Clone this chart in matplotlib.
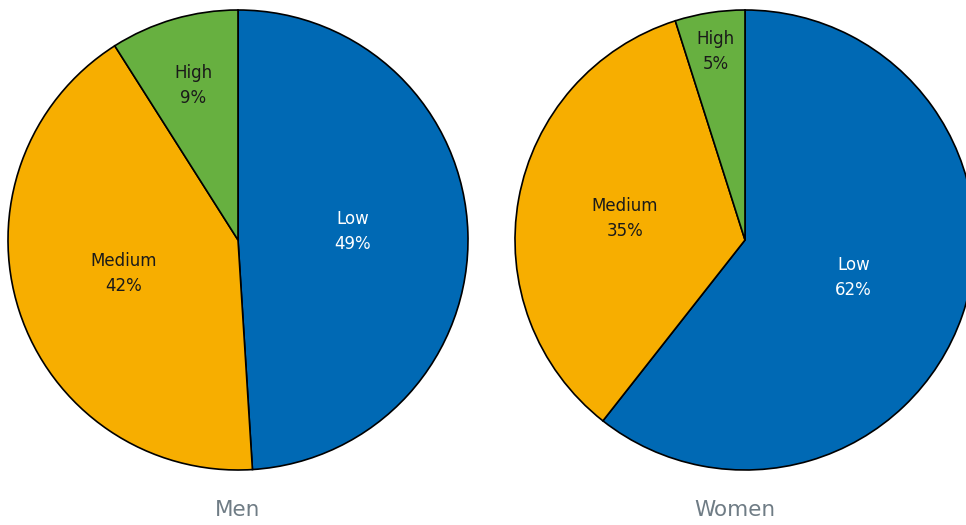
import matplotlib.pyplot as plt
import numpy as np

# data
categories = ["Low", "Medium", "High"]
men_shares = [49, 42, 9]
women_shares = [60.6, 34.5, 4.9]
men_labels = ["49%", "42%", "9%"]
women_labels = ["62%", "35%", "5%"]
groups = ["Men", "Women"]

colors = ["#0069B4", "#F7AE00", "#67B040"]
text_colors = ["white", "#1a1a1a", "#1a1a1a"]

W, H = 966, 525
fig = plt.figure(figsize=(W / 100, H / 100), dpi=100)
ax = fig.add_axes([0, 0, 1, 1])

R = 230
# (shares, pct text, centre, label radius, label angle nudge, title x)
pies = [
    (men_shares, men_labels, (238, 285), [0.50, 0.52, 0.70], [2.5, -1.5, 0], 238),
    (women_shares, women_labels, (745, 285), [0.50, 0.53, 0.83], [0, 0, 0], 735),
]

for (shares, pct, center, label_r, nudge, title_x), name in zip(pies, groups):
    wedges, _ = ax.pie(shares, colors=colors, startangle=90, counterclock=False,
                       center=center, radius=R,
                       wedgeprops=dict(edgecolor="black", linewidth=1.2))
    for i, w in enumerate(wedges):
        mid = np.deg2rad((w.theta1 + w.theta2) / 2 + nudge[i])
        x = center[0] + label_r[i] * R * np.cos(mid)
        y = center[1] + label_r[i] * R * np.sin(mid)
        ax.text(x, y, f"{categories[i]}\n{pct[i]}", ha="center", va="center",
                fontsize=12, color=text_colors[i], linespacing=1.5)
    ax.text(title_x, 15, name, ha="center", va="center", fontsize=15.5,
            color="#6f7c85")

ax.set_xlim(0, W)
ax.set_ylim(0, H)
ax.set_aspect("equal")
ax.axis("off")

fig.savefig("out.png", dpi=100)
